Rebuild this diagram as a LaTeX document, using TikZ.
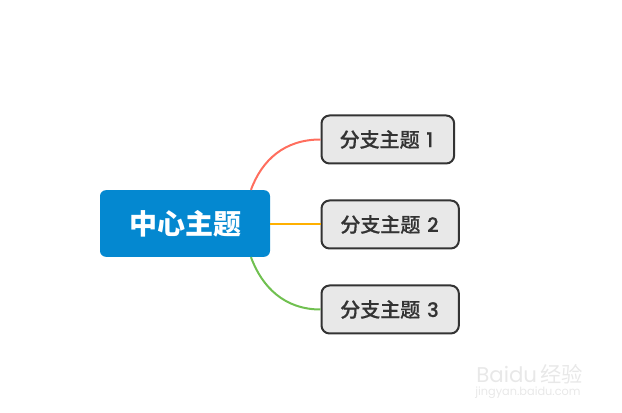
\documentclass[tikz,border=0pt]{standalone}
\usepackage{fontspec}
\setmainfont{Poppins}
\newfontfamily\cjk{Noto Sans CJK SC}
\newfontfamily\cjkmed{Noto Sans CJK SC Medium}[FakeBold=0.5]
\newfontfamily\digitmed{Poppins Medium}[FakeBold=0.3]
\usepackage{xcolor}
\definecolor{topicblue}{HTML}{0488D0}
\definecolor{branchred}{HTML}{FF6E5E}
\definecolor{branchorange}{HTML}{FFB000}
\definecolor{branchgreen}{HTML}{70C050}
\usetikzlibrary{positioning}
\tikzset{
  centerbox/.style={rectangle, rounded corners=4.5pt, fill=topicblue, text=white, align=center,
                    minimum width=127.5pt, minimum height=50pt, inner sep=0pt,
                    font=\fontsize{21}{24}\selectfont\cjk\bfseries},
  branchbox/.style={rectangle, rounded corners=6pt, draw=black!80, fill=black!9, text=black!80,
                    line width=1.5pt, minimum height=36pt, inner sep=0pt, anchor=west, align=center,
                    font=\fontsize{15}{18}\selectfont\digitmed},
  link/.style     ={line width=1.5pt},
  wmark/.style    ={text=black!9, inner sep=0pt, anchor=west},
}
\newcommand{\zh}[1]{{\cjkmed #1}}
\begin{document}
\begin{tikzpicture}[x=0.75pt,y=-0.75pt]
  \useasboundingbox (0,0) rectangle (622,413);
  \node[centerbox] (center) at (185,223.5) {中心主题};
  \node[branchbox, minimum width=99.5pt] (b1) at (320.5,139.5) {\zh{分支主题}\hspace{5pt}1\hspace{2pt}};
  \node[branchbox, minimum width=103pt]  (b2) at (320.5,224.5) {\zh{分支主题}\hspace{5pt}2\hspace{1pt}};
  \node[branchbox, minimum width=103pt]  (b3) at (320.5,309.5) {\zh{分支主题}\hspace{5pt}3\hspace{1pt}};
  \draw[link, branchred]    (center.27) .. controls +(11,-30) and +(-36,0) .. (b1.west);
  \draw[link, branchorange] (center.east |- b2.west) -- (b2.west);
  \draw[link, branchgreen]  (center.-27) .. controls +(11,30) and +(-36,0) .. (b3.west);
  \node[wmark, font=\fontsize{16}{18}\selectfont] (wm1) at (476,374) {Baidu\,{\cjk 经验}};
  \node[wmark, font=\fontsize{8.5}{10}\selectfont] (wm2) at (475,393) {jingyan.baidu.com};
\end{tikzpicture}
\end{document}
